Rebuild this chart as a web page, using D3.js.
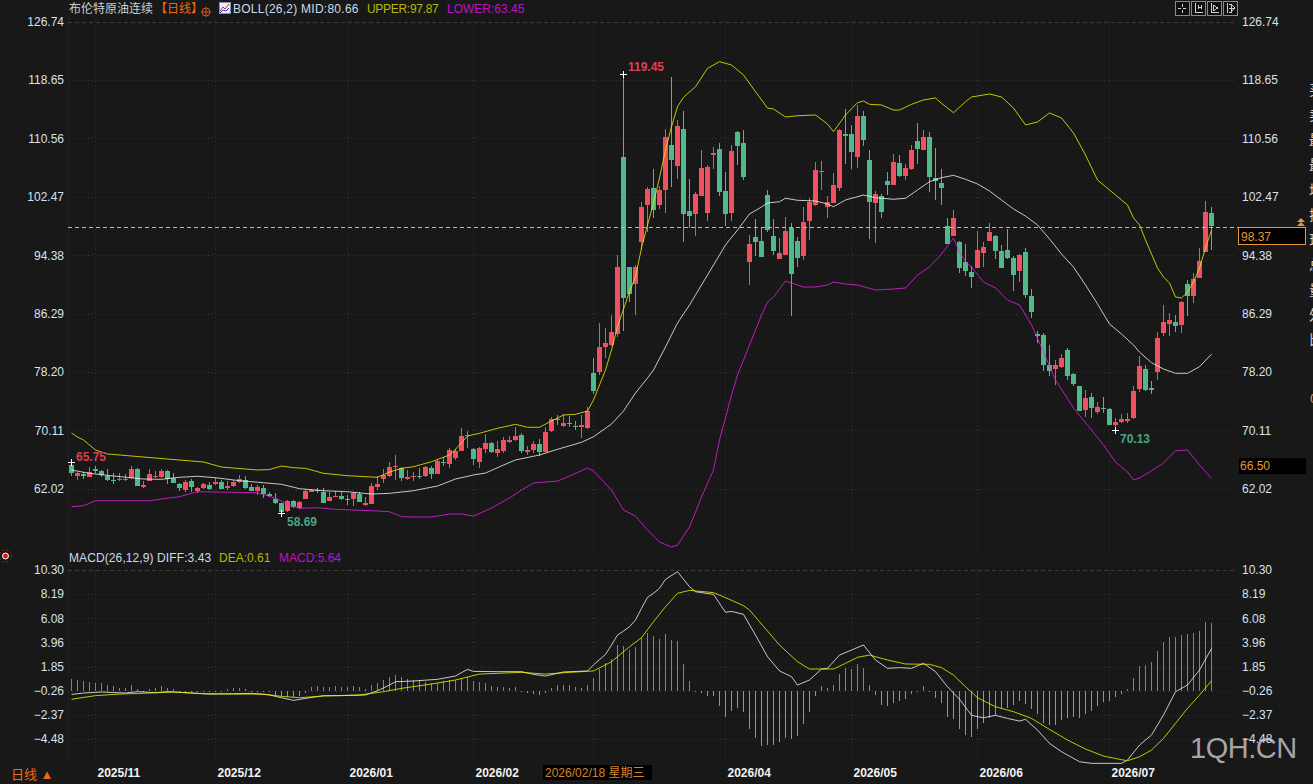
<!DOCTYPE html>
<html>
<head>
<meta charset="utf-8">
<title>布伦特原油连续 日线</title>
<script src="https://cdnjs.cloudflare.com/ajax/libs/d3/7.8.5/d3.min.js"></script>
<style>
html,body{margin:0;padding:0;background:#181818;overflow:hidden}
svg{display:block}
text{font-family:"Liberation Sans",Arial,"Noto Sans CJK SC",sans-serif}
</style>
</head>
<body>
<svg id="chart" width="1313" height="784"></svg>
<script>
// Daily candles, oldest first
const opens = [
65.30,63.78,64.01,63.69,64.70,64.47,63.83,63.23,63.27,63.32,
63.50,64.75,62.30,63.13,63.60,63.60,64.47,63.46,62.67,61.89,
63.13,61.70,62.12,62.53,62.72,62.95,62.12,62.44,62.99,63.27,
62.30,61.75,62.12,61.33,60.64,59.99,58.98,60.32,59.30,60.59,
61.61,61.84,61.61,60.36,60.92,61.05,60.59,60.59,61.29,59.81,
59.90,62.26,63.35,63.73,64.98,64.93,63.41,63.68,63.82,63.82,
64.89,64.10,65.67,65.49,66.23,67.29,69.37,67.52,65.76,67.52,
68.35,66.96,67.24,68.49,68.77,69.46,67.06,67.38,68.21,67.15,
70.01,71.63,70.71,71.17,70.75,70.61,70.48,78.05,78.19,81.66,
81.93,83.46,107.99,92.74,90.39,96.20,101.34,103.69,101.34,103.42,
109.65,106.74,111.87,100.51,100.09,102.58,100.23,108.27,109.10,103.28,
100.23,111.45,109.93,93.44,96.90,96.35,102.72,97.04,93.85,94.41,
98.15,96.35,94.27,99.12,101.34,105.91,101.06,101.61,103.69,111.18,
111.18,107.99,113.67,107.57,101.61,102.58,104.66,104.11,107.16,105.36,
106.33,110.21,108.96,110.76,105.08,104.39,98.43,97.04,96.21,93.44,
92.05,92.61,94.68,96.35,97.04,94.96,95.10,93.99,92.19,94.82,
88.72,83.46,83.32,79.16,78.61,78.88,81.24,77.91,76.25,72.93,
74.73,72.65,73.20,73.06,70.85,71.26,71.40,71.82,75.83,78.61,
75.97,78.19,83.60,84.84,85.12,84.71,90.39,88.72,91.22,94.82,
100.23];
const highs = [
65.75,64.38,64.38,64.98,65.17,64.61,64.70,64.15,64.15,64.06,
65.17,64.89,63.13,64.70,64.52,64.70,64.61,64.24,62.86,63.23,
63.32,62.30,62.76,62.99,63.55,63.23,63.13,63.23,63.92,63.78,
62.67,62.53,62.53,61.61,61.38,60.08,60.45,60.45,60.36,61.93,
62.02,62.07,62.07,61.61,61.70,61.61,61.15,61.61,61.61,60.92,
62.86,63.78,64.70,65.76,66.69,65.07,64.61,64.28,64.84,65.16,
65.21,66.09,66.36,67.61,67.47,70.38,70.06,67.70,67.84,69.55,
68.54,68.63,69.23,69.32,70.61,69.74,67.93,68.58,68.86,70.52,
71.91,72.23,72.37,72.14,71.40,72.23,73.29,80.13,84.98,84.29,
86.09,94.41,119.45,92.74,93.02,101.75,103.83,106.33,103.97,111.87,
119.08,113.12,114.37,104.94,103.14,108.96,106.88,109.38,109.93,105.91,
109.65,111.59,111.73,97.18,99.40,98.15,103.42,99.40,96.76,99.67,
98.84,96.90,101.06,102.31,107.30,107.44,102.58,105.77,111.87,114.64,
112.43,115.20,114.37,108.96,103.28,102.86,105.91,108.41,108.27,107.02,
109.65,112.70,111.73,111.45,109.24,106.33,99.54,100.64,96.35,95.93,
92.88,97.73,96.21,98.84,97.18,95.79,98.01,94.27,94.55,95.38,
89.69,83.87,83.60,81.93,79.85,80.69,81.52,78.05,76.25,75.70,
75.28,74.03,74.73,73.20,71.82,72.37,72.51,76.25,80.41,79.16,
76.94,83.73,87.48,86.37,86.09,88.03,90.94,91.91,95.38,101.89,
101.06];
const lows = [
63.78,63.23,63.41,63.60,64.15,63.69,63.13,62.67,63.09,63.04,
63.41,62.39,62.12,63.04,63.50,63.50,62.67,62.76,61.70,61.61,
61.56,61.38,62.02,61.84,62.53,61.93,61.84,62.30,62.86,62.02,
61.66,61.15,60.69,60.82,59.90,58.69,58.84,59.30,59.25,60.55,
61.52,61.47,59.99,60.27,60.82,60.45,59.76,59.62,60.13,59.67,
59.85,61.84,62.80,63.59,63.22,63.13,63.22,63.08,63.36,63.59,
63.41,64.05,65.16,64.93,66.00,67.20,67.61,65.30,64.93,66.92,
66.92,66.36,67.01,68.40,68.67,67.01,66.69,66.92,66.59,67.06,
69.92,70.84,70.61,70.61,70.15,69.09,70.29,75.14,77.78,80.13,
81.79,83.04,83.87,87.89,86.09,95.10,97.59,99.54,100.78,100.23,
103.83,104.94,96.21,98.15,97.04,102.58,99.12,106.33,102.58,98.43,
99.12,106.88,104.80,90.25,94.27,94.13,97.59,94.41,93.85,94.41,
85.95,92.74,93.71,96.49,101.20,103.42,99.54,101.61,103.28,107.02,
106.33,106.47,109.51,96.63,96.07,99.54,102.72,104.11,105.22,104.80,
106.19,107.02,108.96,103.14,102.03,101.34,95.93,97.04,91.91,91.50,
89.83,92.61,92.74,96.35,93.85,92.61,93.85,89.42,90.67,88.45,
85.67,82.21,78.33,77.64,76.39,78.75,77.08,76.25,72.79,71.96,
71.82,72.37,72.51,70.85,70.13,71.12,71.12,71.68,75.42,75.56,
75.14,77.08,83.18,83.18,83.74,83.60,85.95,87.75,91.22,94.82,
95.10];
const closes = [
64.24,64.15,63.78,64.29,64.43,63.87,63.23,63.13,63.36,63.41,
64.75,62.39,62.53,64.06,63.78,64.47,63.41,62.81,62.07,62.95,
62.21,62.12,62.67,61.98,62.95,61.98,62.39,62.99,63.41,62.12,
61.75,62.21,61.33,61.01,59.99,58.75,60.27,59.53,60.18,61.70,
61.89,61.70,60.08,60.87,61.05,60.64,60.55,61.38,60.22,60.08,
62.39,62.67,63.95,65.02,65.16,63.50,63.64,63.82,63.68,65.02,
64.05,65.86,65.53,67.33,67.24,69.32,69.41,66.13,67.66,68.40,
67.10,67.52,68.77,68.77,69.32,67.24,67.33,68.21,67.15,69.87,
71.63,71.54,71.12,71.08,70.71,70.85,72.79,75.56,81.66,82.21,
83.73,92.74,88.45,89.00,92.74,101.06,103.55,100.64,103.42,110.76,
107.57,112.29,100.09,99.81,102.86,106.47,106.60,108.54,103.14,100.09,
108.82,109.51,105.22,95.93,96.21,94.13,97.87,94.96,94.68,97.73,
91.77,93.99,98.98,101.75,106.19,106.05,101.75,104.11,111.73,110.90,
108.68,113.67,110.35,101.75,102.86,100.37,104.11,107.30,105.36,106.47,
108.96,109.10,110.76,105.22,104.66,103.69,95.93,99.54,92.61,92.19,
91.36,95.10,95.52,97.59,94.96,92.61,93.99,91.64,94.41,88.86,
86.51,83.18,79.16,78.33,79.16,80.13,77.64,76.53,72.79,74.59,
73.20,73.34,73.06,70.85,71.26,71.68,71.68,75.56,79.02,75.70,
75.70,82.90,85.12,85.40,84.57,87.89,88.72,91.08,93.58,100.37,
98.37];

// Bollinger bands, read at the listed bar numbers
const upperBars = [0,1,2,4,6,12,16,20,22,25,31,33,35,37,39,42,46,51,53,55,57,60,63,64,66,68,71,74,76,78,80,82,84,86,87,89,90,91,93,94,95,96,97,98,99,100,101,102,104,106,108,110,112,114,116,117,119,121,124,126,127,129,131,132,133,135,137,138,140,142,144,145,147,149,150,153,155,157,159,161,163,165,167,169,171,173,175,176,177,178,179,180,181,182,183,184,185,186,187,188,189,190];
const upperValues = [69.74,69.18,68.77,67.38,66.83,66.41,66.13,65.86,65.72,65.02,64.61,64.68,65.16,64.93,64.84,64.15,63.82,63.60,64.33,64.84,65.07,65.76,66.69,67.48,69.32,69.70,70.39,70.94,70.53,70.53,71.40,72.23,72.33,72.79,74.31,78.47,81.24,84.47,89.32,91.40,95.38,98.57,101.61,105.08,108.96,112.19,114.96,116.26,117.73,120.28,121.20,120.74,119.35,117.04,114.78,114.64,113.53,113.71,113.81,112.56,111.50,113.81,115.52,115.75,115.29,115.20,114.50,114.50,115.29,115.89,116.17,115.43,114.13,115.65,116.31,116.72,116.31,114.78,112.43,112.84,114.09,113.40,111.32,108.27,104.80,103.42,102.03,101.34,99.54,98.57,96.49,94.55,92.61,91.36,90.53,88.59,88.45,89.28,90.66,92.61,95.38,97.87];

const midBars = [0,3,7,12,15,18,21,24,28,32,35,38,42,46,50,53,55,57,59,61,64,67,69,72,74,78,81,85,87,90,92,94,96,97,99,101,103,105,107,109,111,113,115,116,118,119,121,124,126,127,129,132,134,137,139,141,143,145,147,149,151,153,155,157,159,161,163,165,167,169,171,173,175,177,178,180,182,184,186,188,190];
const midValues = [64.61,64.15,63.78,63.36,63.32,63.60,63.74,63.54,63.13,62.85,62.63,62.02,61.74,61.60,61.28,61.38,61.56,61.74,62.07,62.39,63.36,63.92,64.19,65.30,66.00,66.69,67.48,68.45,69.22,70.98,72.79,75.28,77.36,78.47,81.66,84.98,87.48,90.25,93.02,95.79,97.87,100.09,101.06,101.61,101.79,102.27,101.99,101.89,101.48,101.10,102.03,102.72,102.35,102.13,102.27,103.42,104.57,105.12,105.45,104.90,104.25,103.28,102.03,100.78,99.81,98.57,96.63,94.55,92.74,90.25,87.62,84.84,83.46,81.93,80.96,79.48,78.61,78.01,78.01,78.93,80.66];

const lowerBars = [0,2,4,13,15,18,20,21,27,31,34,36,38,41,44,47,50,53,55,57,60,63,65,67,70,73,75,77,79,81,83,86,87,90,92,94,96,98,100,101,103,105,107,108,110,111,113,115,116,117,119,122,124,126,127,129,131,134,137,139,141,143,145,147,148,149,150,152,154,156,158,160,162,164,167,170,172,174,176,177,178,180,182,184,186,188,190];
const lowerValues = [59.52,59.66,60.35,60.35,60.59,60.91,61.38,61.60,61.52,61.46,60.69,59.90,59.30,59.38,59.16,59.06,58.97,58.83,58.14,58.10,58.10,58.51,58.51,58.23,59.34,60.73,61.84,62.81,62.95,63.08,63.78,64.89,64.47,61.84,59.06,58.23,56.29,54.63,53.94,54.21,56.71,60.87,64.61,68.77,74.98,77.78,81.93,86.09,87.89,88.59,90.80,89.97,89.97,90.25,90.66,90.39,90.25,89.56,89.69,89.83,91.63,92.74,94.55,96.76,94.82,93.44,92.74,90.66,89.83,88.17,87.48,84.71,80.96,77.08,73.20,70.15,68.07,65.72,64.33,63.22,63.50,64.51,65.58,67.28,67.38,65.30,63.45];

// MACD histogram, one value per bar
const macdHist = [
0.73,0.64,0.59,0.50,0.44,0.44,0.20,0.12,0.00,0.00,
0.20,-0.08,-0.30,-0.10,0.00,0.12,0.00,-0.10,-0.35,-0.38,
-0.40,-0.38,-0.35,-0.38,-0.35,-0.30,-0.15,0.00,0.00,-0.10,
-0.30,-0.35,-0.38,-0.38,-0.60,-0.75,-0.80,-0.80,-0.75,-0.45,
0.06,0.12,0.03,0.03,0.12,0.03,0.06,0.12,0.03,-0.08,
0.20,0.38,0.67,0.90,1.08,0.90,0.73,0.64,0.64,0.50,
0.44,0.38,0.59,0.67,0.64,0.85,0.94,0.56,0.50,0.41,
0.12,0.03,0.06,0.00,0.03,-0.30,-0.45,-0.55,-0.65,-0.50,
0.00,0.20,0.26,0.20,0.06,-0.03,0.20,0.82,1.60,2.19,
2.54,3.70,3.62,3.27,3.56,4.38,4.81,4.49,4.23,4.67,
4.14,4.06,2.04,0.56,-0.35,-0.50,-0.73,-0.70,-1.60,-2.56,
-2.04,-1.78,-2.13,-3.61,-4.40,-5.10,-4.98,-4.98,-4.75,-4.37,
-4.52,-4.25,-3.20,-2.13,-0.73,0.12,0.00,0.20,1.23,1.75,
1.60,2.04,1.69,0.20,-0.67,-1.54,-1.63,-1.31,-1.16,-0.96,
-0.58,-0.35,0.12,-0.30,-0.90,-1.31,-2.56,-2.71,-3.64,-4.17,
-4.34,-3.58,-3.09,-2.65,-2.36,-1.86,-1.75,-1.48,-1.16,-1.46,
-1.83,-2.30,-3.09,-3.29,-3.26,-2.85,-2.65,-2.56,-2.65,-2.33,
-2.04,-1.63,-1.25,-1.16,-0.81,-0.52,-0.08,0.85,1.87,2.02,
2.25,3.18,3.97,4.41,4.41,4.58,4.67,4.76,4.93,5.72,
5.64];

// DIFF and DEA, read at the listed bar numbers
const diffBars = [0,2,5,9,11,14,16,20,23,27,30,33,35,37,39,42,45,49,51,53,54,57,61,64,66,67,71,75,77,79,82,86,87,89,90,91,92,93,94,95,96,97,98,99,101,103,104,107,109,110,112,114,116,118,120,121,123,125,126,128,130,132,134,136,138,140,142,144,146,148,150,151,152,154,156,158,159,161,163,165,168,170,175,176,178,180,182,184,186,188,190];
const diffValues = [-0.58,-0.46,-0.37,-0.46,-0.34,-0.43,-0.34,-0.46,-0.55,-0.52,-0.49,-0.63,-0.87,-1.10,-0.93,-0.69,-0.69,-0.63,-0.26,0.24,0.53,0.59,0.74,1.03,1.61,1.43,1.41,1.41,1.17,1.03,1.38,1.47,2.00,2.92,3.74,4.61,4.96,5.34,5.93,6.95,7.91,8.26,8.70,9.48,10.15,8.84,8.40,8.17,6.60,6.68,6.42,4.61,2.72,1.47,0.97,0.24,0.68,1.64,1.70,2.86,3.30,3.74,2.43,1.70,1.76,1.70,2.14,1.41,0.09,-1.00,-2.40,-2.53,-2.62,-2.41,-2.68,-2.91,-2.76,-3.70,-4.86,-5.59,-6.47,-6.61,-6.61,-6.32,-5.01,-4.13,-2.38,-0.34,0.24,1.55,3.43];

const deaBars = [0,2,4,8,13,17,22,27,32,35,38,42,48,52,55,60,64,68,75,79,83,87,90,93,95,97,99,101,103,107,109,112,113,116,118,121,123,127,129,131,133,136,139,143,145,147,149,151,154,157,160,163,166,169,172,175,176,178,180,182,184,186,188,190];
const deaValues = [-1.01,-0.84,-0.69,-0.55,-0.46,-0.37,-0.52,-0.55,-0.55,-0.75,-0.87,-0.72,-0.63,-0.34,-0.05,0.33,0.68,1.20,1.35,1.20,1.35,1.47,2.28,3.59,4.38,5.78,7.09,8.26,8.52,8.32,7.88,7.18,6.80,4.96,3.74,2.28,1.64,1.64,2.14,2.66,2.86,2.43,2.08,2.05,1.76,1.11,0.09,-0.87,-1.66,-2.09,-2.68,-3.64,-4.57,-5.36,-5.97,-6.29,-6.38,-6.03,-5.45,-4.43,-3.11,-1.80,-0.64,0.61];

const priceTicks = [126.74,118.65,110.56,102.47,94.38,86.29,78.20,70.11,62.02];
const macdTicks = [10.30,8.19,6.08,3.96,1.85,-0.26,-2.37,-4.48];
const macdBase = -0.26;
const monthBars = [4,24,46,67,109,130,151,173];
const monthLabels = ["2025/11","2025/12","2026/01","2026/02","2026/04","2026/05","2026/06","2026/07"];
const gridBars = [4,24,46,67,87,109,130,151,173];
const lastPrice = 98.37;
const sideLabels = ["买","卖","最","最","均","振","现","总","量","外","比"];
const sideRows = [0,1,2,3,4,5,6,7,8,9,10];

const UP = "#f0505f", DOWN = "#4fb98a";
const YELLOW = "#f0f000", WHITE = "#f4f4f4", MAGENTA = "#e81ee8";
const TEXT = "#d6e2ec", ORANGE = "#f06a0a", AMBER = "#e8973a";

const svg = d3.select("#chart");
const n = closes.length;
const x = d3.scaleLinear().domain([0, n - 1]).range([71, 1211]);
const y = d3.scaleLinear().domain([62.02, 126.74]).range([488.7, 21.7]);
const yM = d3.scaleLinear().domain([-4.48, 10.30]).range([739, 570]);
const px = v => Math.round(v);

svg.append("rect").attr("width", 1313).attr("height", 784).attr("fill", "#181818");

// Pane borders and grid
const grid = svg.append("g").attr("shape-rendering", "crispEdges");
grid.append("line").attr("x1", 68).attr("x2", 68).attr("y1", 16).attr("y2", 764).attr("stroke", "#202020");

function hGrid(ticks, scale) {
  grid.selectAll(null).data(ticks).join("line")
    .attr("x1", 68).attr("x2", 1236)
    .attr("y1", d => px(scale(d)) + 0.5).attr("y2", d => px(scale(d)) + 0.5)
    .attr("stroke", (d, i) => i === 0 ? "#3c3c3c" : "#343434")
    .attr("stroke-dasharray", (d, i) => i === 0 ? "4 3" : "1 3");
}
hGrid(priceTicks, y);
hGrid(macdTicks, yM);

[[21, 552], [570, 764]].forEach(([a, b]) => {
  grid.selectAll(null).data(gridBars).join("line")
    .attr("x1", d => x(d) + 0.5).attr("x2", d => x(d) + 0.5)
    .attr("y1", a).attr("y2", b)
    .attr("stroke", "#343434").attr("stroke-dasharray", "1 3");
});

// Price axes on both sides
function priceAxis(generator, scale, ticks, xPos) {
  const g = svg.append("g").attr("transform", `translate(${xPos},0)`)
    .call(generator(scale).tickValues(ticks).tickSize(0).tickPadding(0).tickFormat(d3.format(".2f")));
  g.select(".domain").remove();
  g.selectAll("text").attr("fill", TEXT).attr("font-size", 12)
    .attr("font-family", '"Liberation Sans",Arial,sans-serif');
}
priceAxis(d3.axisLeft, y, priceTicks, 64);
priceAxis(d3.axisRight, y, priceTicks, 1242);
priceAxis(d3.axisLeft, yM, macdTicks, 64);
priceAxis(d3.axisRight, yM, macdTicks, 1242);

// Month axis
const monthAxis = svg.append("g").attr("transform", "translate(2,768)")
  .call(d3.axisBottom(x).tickValues(monthBars).tickSize(0).tickPadding(0)
    .tickFormat((d, i) => monthLabels[i]));
monthAxis.select(".domain").remove();
monthAxis.selectAll("text").attr("fill", "#f2f2f2").attr("font-size", 12)
  .attr("font-weight", "bold").attr("text-anchor", "start")
  .attr("font-family", '"Liberation Sans",Arial,sans-serif');

// Candles
const idx = d3.range(n);
const colour = i => closes[i] >= opens[i] ? UP : DOWN;
const candles = svg.append("g").attr("shape-rendering", "crispEdges");
candles.selectAll(".wick").data(idx).join("rect").attr("class", "wick")
  .attr("x", i => x(i)).attr("width", 1)
  .attr("y", i => px(y(highs[i])))
  .attr("height", i => Math.max(1, px(y(lows[i])) - px(y(highs[i]))))
  .attr("fill", colour);
candles.selectAll(".body").data(idx).join("rect").attr("class", "body")
  .attr("x", i => x(i) - 2).attr("width", 5)
  .attr("y", i => px(y(Math.max(opens[i], closes[i]))))
  .attr("height", i => Math.max(1, px(y(Math.min(opens[i], closes[i]))) - px(y(Math.max(opens[i], closes[i])))))
  .attr("fill", colour);

// Overlay lines
function polyline(bars, values, scale, stroke) {
  svg.append("path")
    .datum(bars)
    .attr("fill", "none").attr("stroke", stroke).attr("stroke-width", 0.8)
    .attr("d", d3.line().x(b => x(b) + 0.5).y((b, i) => scale(values[i])));
}
polyline(midBars, midValues, y, WHITE);
polyline(upperBars, upperValues, y, YELLOW);
polyline(lowerBars, lowerValues, y, MAGENTA);

// Last-price guide and boxes
svg.append("line").attr("x1", 68).attr("x2", 1238)
  .attr("y1", px(y(lastPrice)) + 1.5).attr("y2", px(y(lastPrice)) + 1.5)
  .attr("stroke", "#e8ae6c").attr("stroke-dasharray", "4 3").attr("shape-rendering", "crispEdges");
svg.append("rect").attr("x", 1238.5).attr("y", y(lastPrice) + 1.5).attr("width", 67).attr("height", 17)
  .attr("fill", "#000").attr("stroke", AMBER).attr("shape-rendering", "crispEdges");
svg.append("text").attr("x", 1241).attr("y", y(lastPrice) + 14.5).attr("fill", AMBER)
  .attr("font-size", 12).text(d3.format(".2f")(lastPrice));
svg.append("path").attr("d", "M1297 222l4-4 4 4zM1297 226l4-4 4 4z").attr("fill", AMBER);
svg.append("rect").attr("x", 1239).attr("y", 458).attr("width", 67).attr("height", 16).attr("fill", "#000");
svg.append("text").attr("x", 1240).attr("y", 470).attr("fill", AMBER).attr("font-size", 12).text("66.50");

// High and low markers
const marks = [
  { bar: d3.maxIndex(highs), value: d3.max(highs), dx: 5, dy: -3, fill: "#e0404e" },
  { bar: 0, value: highs[0], dx: 5, dy: -1, fill: "#d8404c" },
  { bar: d3.minIndex(lows), value: d3.min(lows), dx: 6, dy: 13, fill: "#45a880" },
  { bar: 174, value: lows[174], dx: 5, dy: 13, fill: "#45a880" }
];
svg.append("g").selectAll("path").data(marks).join("path")
  .attr("d", d => `M${x(d.bar) - 3} ${px(y(d.value)) + 0.5}h7M${x(d.bar) + 0.5} ${px(y(d.value)) - 3}v7`)
  .attr("stroke", "#fff").attr("fill", "none").attr("shape-rendering", "crispEdges");
svg.append("g").selectAll("text").data(marks).join("text")
  .attr("x", d => x(d.bar) + d.dx).attr("y", d => y(d.value) + d.dy)
  .attr("fill", d => d.fill).attr("font-size", 12).attr("font-weight", "bold")
  .text(d => d3.format(".2f")(d.value));

// MACD histogram and lines
svg.append("g").attr("shape-rendering", "crispEdges")
  .selectAll("rect").data(macdHist).join("rect")
  .attr("x", (d, i) => x(i)).attr("width", 1)
  .attr("y", d => Math.min(yM(d), yM(macdBase)))
  .attr("height", d => Math.max(1, Math.abs(yM(d) - yM(macdBase))))
  .attr("fill", d => d > macdBase ? UP : DOWN);
polyline(diffBars, diffValues, yM, WHITE);
polyline(deaBars, deaValues, yM, YELLOW);

// Legend rows
function legend(items, baseline) {
  svg.append("g").selectAll("text").data(items).join("text")
    .attr("x", d => d.x).attr("y", baseline).attr("fill", d => d.fill)
    .attr("font-size", 12).attr("letter-spacing", d => d.ls || 0).text(d => d.text);
}
legend([
  { x: 69, fill: "#c8d0d6", text: "布伦特原油连续" },
  { x: 155, fill: ORANGE, text: "【日线】" },
  { x: 233, fill: "#c9dcec", ls: 0.25, text: "BOLL(26,2) MID:" + midValues[midValues.length - 1].toFixed(2) },
  { x: 367, fill: "#b4b800", ls: -0.3, text: "UPPER:" + upperValues[upperValues.length - 1].toFixed(2) },
  { x: 447, fill: "#c010c8", text: "LOWER:" + lowerValues[lowerValues.length - 1].toFixed(2) }
], 13);
legend([
  { x: 69, fill: "#c9dcec", ls: 0.1, text: "MACD(26,12,9) DIFF:" + diffValues[diffValues.length - 1].toFixed(2) },
  { x: 219, fill: "#b4b800", text: "DEA:" + deaValues[deaValues.length - 1].toFixed(2) },
  { x: 279, fill: "#c010c8", text: "MACD:" + macdHist[macdHist.length - 1].toFixed(2) }
], 562);

// Header icons
const icons = svg.append("g").attr("fill", "none");
icons.append("circle").attr("cx", 206).attr("cy", 12).attr("r", 4).attr("stroke", "#d8521e");
icons.append("path").attr("d", "M201 12h10M206 7v10").attr("stroke", "#d8521e");
icons.append("rect").attr("x", 219.5).attr("y", 2.5).attr("width", 11).attr("height", 11).attr("fill", "#eef").attr("stroke", "#8890a8");
icons.append("path").attr("d", "M220 11l3-4 2 2 4-5").attr("stroke", "#d02828");
icons.append("path").attr("d", "M220 13l3-3 3 1 3-3").attr("stroke", "#2840c8");

// Toolbar buttons
const tools = svg.append("g").attr("shape-rendering", "crispEdges");
const toolX = [1175, 1191, 1207, 1223];
toolX.forEach((tx, k) => {
  tools.append("rect").attr("x", tx + 0.5).attr("y", 1.5).attr("width", 14).attr("height", 14)
    .attr("fill", "#101010").attr("stroke", "#8a8a8a");
  const glyph = [
    `M${tx + 7} 4v3M${tx + 7} 10v3M${tx + 3} 8h3M${tx + 8} 8h3`,
    `M${tx + 4} 3v9h8M${tx + 7} 5v4M${tx + 10} 5v4M${tx + 7} 7h3`,
    `M${tx + 4} 3v9h8M${tx + 6} 5l5 3-5 3z`,
    `M${tx + 4} 3v10M${tx + 6} 8h6M${tx + 9} 5l3 3-3 3M${tx + 6} 4h2v8h-2`
  ][k];
  tools.append("path").attr("d", glyph).attr("stroke", "#d0d0d0").attr("fill", "none");
});

// Status dot beside the MACD pane
svg.append("circle").attr("cx", 5.5).attr("cy", 556).attr("r", 3).attr("fill", "#e01818").attr("stroke", "#fff");
svg.append("circle").attr("cx", 5.5).attr("cy", 556).attr("r", 6).attr("fill", "none").attr("stroke", "#c02020").attr("stroke-dasharray", "1.5 2");

// Period switch and crosshair date
svg.append("text").attr("x", 11).attr("y", 779).attr("fill", ORANGE).attr("font-size", 13).text("日线 ▲");
svg.append("rect").attr("x", 543).attr("y", 765).attr("width", 109).attr("height", 15).attr("fill", "#000");
svg.append("text").attr("x", 545).attr("y", 777).attr("fill", "#d8842c").attr("font-size", 12).text("2026/02/18 星期三");

// Quote panel entries running off the right edge
svg.append("g").selectAll("text").data(sideLabels).join("text")
  .attr("x", 1309).attr("y", (d, i) => 95 + sideRows[i] * 25)
  .attr("fill", "#cfcfcf").attr("font-size", 14).text(d => d);
svg.append("text").attr("x", 1310).attr("y", 403).attr("fill", AMBER).attr("font-size", 13).text("0");

// Site mark
svg.append("text").attr("x", 1190).attr("y", 758).attr("fill", "rgba(205,205,205,0.8)")
  .attr("font-size", 29).attr("font-family", "Roboto,sans-serif").attr("font-weight", 300)
  .attr("letter-spacing", "-0.5").text("1QH.CN");
</script>
</body>
</html>
